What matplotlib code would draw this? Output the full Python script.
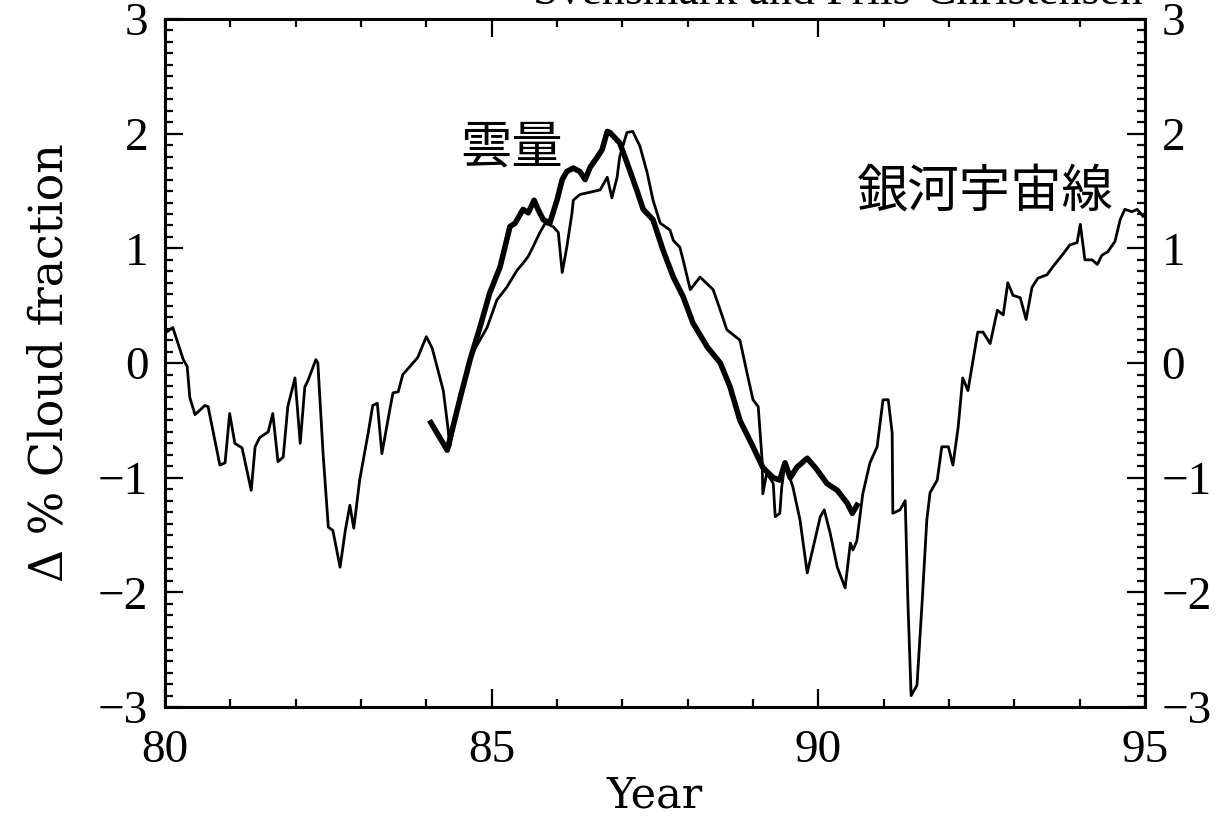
import matplotlib
matplotlib.use("Agg")
import matplotlib.pyplot as plt
from matplotlib.ticker import MultipleLocator, FixedLocator, FixedFormatter

plt.rcParams['font.family'] = ['Noto Sans CJK JP', 'DejaVu Sans']

# galactic cosmic rays (thin line), year (19xx) vs value
gcr_year = [80.00, 80.12, 80.28, 80.34, 80.38, 80.46, 80.61, 80.66, 80.84, 80.92,
            80.99, 81.07, 81.18, 81.32, 81.38, 81.45, 81.58, 81.65, 81.73, 81.81,
            81.88, 81.99, 82.07, 82.14, 82.19, 82.31, 82.34, 82.42, 82.50, 82.57,
            82.68, 82.76, 82.83, 82.89, 82.98, 83.11, 83.18, 83.25, 83.32, 83.44,
            83.49, 83.57, 83.64, 83.75, 83.87, 84.00, 84.09, 84.21, 84.26, 84.33,
            84.36, 84.52, 84.71, 84.93, 85.08, 85.23, 85.39, 85.48, 85.56, 85.63,
            85.74, 85.82, 85.94, 86.02, 86.08, 86.15, 86.23, 86.25, 86.35, 86.51,
            86.66, 86.77, 86.84, 86.92, 86.96, 87.07, 87.16, 87.27, 87.38, 87.47,
            87.58, 87.73, 87.78, 87.88, 87.93, 88.04, 88.19, 88.39, 88.50, 88.60,
            88.80, 88.91, 89.00, 89.08, 89.14, 89.15, 89.21, 89.31, 89.34, 89.41,
            89.44, 89.49, 89.54, 89.61, 89.72, 89.83, 89.92, 90.03, 90.09, 90.18,
            90.29, 90.41, 90.49, 90.53, 90.59, 90.68, 90.79, 90.90, 90.99, 91.07,
            91.13, 91.14, 91.25, 91.33, 91.37, 91.42, 91.51, 91.59, 91.66, 91.71,
            91.82, 91.89, 91.99, 92.06, 92.14, 92.21, 92.29, 92.44, 92.52, 92.63,
            92.74, 92.83, 92.90, 92.98, 93.09, 93.18, 93.27, 93.36, 93.50, 93.59,
            93.73, 93.85, 93.96, 94.01, 94.08, 94.19, 94.27, 94.34, 94.43, 94.54,
            94.62, 94.69, 94.80, 94.88, 94.97]
gcr_val = [0.26, 0.31, 0.03, -0.03, -0.30, -0.45, -0.37, -0.38, -0.89, -0.87,
           -0.44, -0.70, -0.74, -1.11, -0.73, -0.65, -0.60, -0.44, -0.86, -0.82,
           -0.38, -0.13, -0.70, -0.21, -0.15, 0.03, 0.00, -0.79, -1.43, -1.46,
           -1.78, -1.46, -1.24, -1.44, -1.02, -0.61, -0.37, -0.35, -0.79, -0.41,
           -0.26, -0.25, -0.10, -0.03, 0.05, 0.23, 0.13, -0.13, -0.24, -0.56,
           -0.73, -0.26, 0.09, 0.31, 0.55, 0.66, 0.81, 0.87, 0.93, 1.01,
           1.14, 1.22, 1.19, 1.14, 0.79, 1.01, 1.31, 1.42, 1.47, 1.49,
           1.51, 1.62, 1.44, 1.62, 1.80, 2.01, 2.02, 1.89, 1.66, 1.42,
           1.22, 1.16, 1.07, 1.01, 0.90, 0.64, 0.75, 0.64, 0.46, 0.29,
           0.20, -0.09, -0.32, -0.38, -0.85, -1.14, -0.96, -1.05, -1.34, -1.31,
           -1.08, -0.87, -0.96, -1.08, -1.37, -1.83, -1.61, -1.34, -1.28, -1.48,
           -1.78, -1.96, -1.57, -1.63, -1.55, -1.14, -0.87, -0.73, -0.32, -0.32,
           -0.61, -1.31, -1.28, -1.20, -2.07, -2.90, -2.81, -2.07, -1.37, -1.13,
           -1.02, -0.73, -0.73, -0.89, -0.56, -0.13, -0.24, 0.27, 0.27, 0.17,
           0.46, 0.42, 0.70, 0.59, 0.57, 0.38, 0.66, 0.74, 0.77, 0.84,
           0.94, 1.03, 1.05, 1.21, 0.90, 0.90, 0.86, 0.94, 0.97, 1.06,
           1.25, 1.34, 1.32, 1.34, 1.28]

# cloud fraction (thick line)
cloud_year = [84.07, 84.32, 84.52, 84.67, 84.82, 84.97, 85.13, 85.28, 85.36, 85.48,
              85.56, 85.65, 85.71, 85.79, 85.89, 86.00, 86.08, 86.15, 86.25, 86.35,
              86.43, 86.51, 86.61, 86.69, 86.77, 86.81, 86.96, 87.07, 87.22, 87.32,
              87.47, 87.62, 87.78, 87.93, 88.08, 88.30, 88.50, 88.65, 88.80, 89.00,
              89.15, 89.31, 89.41, 89.49, 89.57, 89.67, 89.83, 89.98, 90.13, 90.29,
              90.44, 90.52, 90.59]
cloud_val = [-0.52, -0.76, -0.30, 0.03, 0.31, 0.61, 0.84, 1.19, 1.22, 1.34,
             1.31, 1.42, 1.34, 1.25, 1.22, 1.42, 1.60, 1.67, 1.70, 1.67,
             1.60, 1.71, 1.79, 1.86, 2.02, 2.01, 1.92, 1.75, 1.51, 1.34,
             1.25, 0.99, 0.75, 0.58, 0.35, 0.14, 0.00, -0.21, -0.50, -0.73,
             -0.91, -1.00, -1.02, -0.87, -1.00, -0.91, -0.83, -0.93, -1.05, -1.11,
             -1.22, -1.31, -1.24]

y_ticks = [-3, -2, -1, 0, 1, 2, 3]
y_labels = ['\u22123', '\u22122', '\u22121', '0', '1', '2', '3']
x_ticks = [80, 85, 90, 95]
x_labels = ['80', '85', '90', '95']

fig = plt.figure(figsize=(12.22, 8.27), dpi=100)
ax = fig.add_axes([0.135, 0.145, 0.802, 0.832])

ax.plot(gcr_year, gcr_val, color='black', linewidth=2.0)
ax.plot(cloud_year, cloud_val, color='black', linewidth=4.0)

ax.set_xlim(80, 95)
ax.set_ylim(-3, 3)

ax.xaxis.set_major_locator(FixedLocator(x_ticks))
ax.xaxis.set_major_formatter(FixedFormatter(x_labels))
ax.xaxis.set_minor_locator(MultipleLocator(1))
ax.yaxis.set_major_locator(FixedLocator(y_ticks))
ax.yaxis.set_major_formatter(FixedFormatter(y_labels))
ax.yaxis.set_minor_locator(MultipleLocator(0.1))

ax.tick_params(which='both', direction='in', top=True, right=True,
               labelright=True, width=1.6, color='black')
ax.tick_params(which='major', length=13)
ax.tick_params(which='minor', length=6)
ax.tick_params(axis='y', pad=12)
ax.tick_params(axis='x', pad=16)
for t in ax.xaxis.get_major_ticks() + ax.yaxis.get_major_ticks():
    for lab in (t.label1, t.label2):
        lab.set_fontfamily('Liberation Serif')
        lab.set_fontsize(34)

for s in ax.spines.values():
    s.set_linewidth(2.2)

ax.set_xlabel('Year', fontfamily='DejaVu Serif', fontsize=31, labelpad=2)
ax.set_ylabel('\u0394 % Cloud fraction', fontfamily='DejaVu Serif', fontsize=33, labelpad=18)

ax.text(85.3, 1.88, '雲量', fontsize=37, ha='center', va='center')
ax.text(92.55, 1.49, '銀河宇宙線', fontsize=37, ha='center', va='center')

# title cut off at the top of the scan
fig.text(0.686, 1 - 4 / 827, 'Svensmark and Friis-Christensen', fontfamily='Liberation Serif',
         fontsize=33, ha='center', va='baseline')

fig.savefig('out.png', dpi=100)
